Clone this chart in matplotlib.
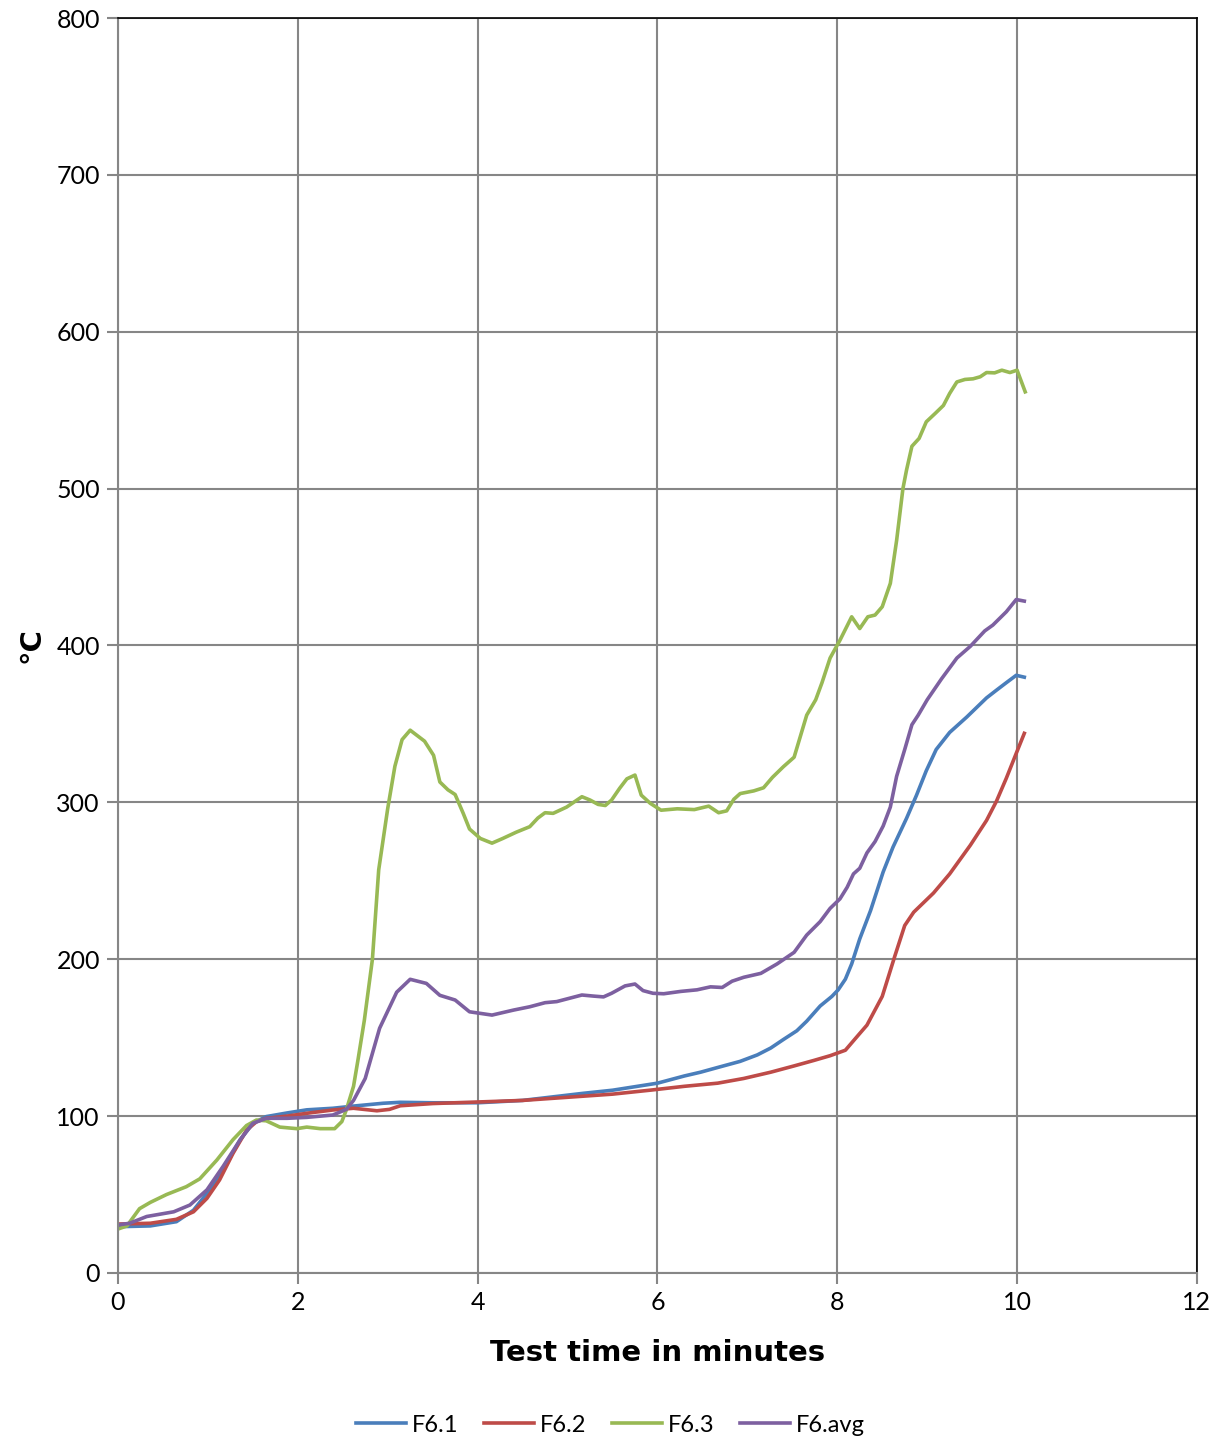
import matplotlib.pyplot as plt

plt.rcParams['font.family'] = ['Lato', 'DejaVu Sans']

# F6.1 (blue)
t_f61 = [0, 0.36, 0.65, 0.84, 1.02, 1.21, 1.36, 1.5, 1.65, 1.88, 2.1, 2.39, 2.62, 2.95, 3.14,
         3.5, 4.0, 4.5, 5.17, 5.5, 6.0, 6.3, 6.48, 6.67, 6.92, 7.11, 7.26, 7.4, 7.55, 7.66,
         7.81, 7.94, 8.01, 8.09, 8.16, 8.25, 8.37, 8.51, 8.62, 8.77, 8.88, 8.99, 9.1, 9.25,
         9.44, 9.66, 9.77, 9.88, 9.99, 10.08]
f61 = [29.5, 30, 32.7, 40, 53, 70, 85, 95.4, 99.7, 102, 104, 105, 106.4, 108.2, 108.8,
       108.5, 108.5, 110, 114.5, 116.5, 121, 125.6, 128, 131, 134.9, 139, 143.4, 148.8, 154.4, 160.5,
       170.2, 176.3, 180.5, 187.3, 197, 213, 231, 255.6, 271.5, 289.8, 304.4, 320.2, 333.7, 344.6,
       354.4, 366.6, 371.5, 376.3, 381, 379.8]

# F6.2 (red)
t_f62 = [0, 0.36, 0.65, 0.84, 0.99, 1.13, 1.28, 1.43, 1.54, 1.65, 1.88, 2.1, 2.39, 2.62, 2.88,
         3.02, 3.14, 3.5, 4.0, 4.5, 5.0, 5.5, 5.93, 6.3, 6.67, 6.96, 7.26, 7.52, 7.74, 7.92,
         8.09, 8.22, 8.33, 8.5, 8.64, 8.75, 8.85, 9.07, 9.25, 9.48, 9.66, 9.77, 9.88, 9.99, 10.08]
f62 = [31.2, 31.7, 34.2, 39, 47.6, 59.3, 76.3, 91, 96.4, 98.6, 100, 101.8, 103.9, 105, 103.4,
       104.3, 106.6, 108, 109, 110, 112, 114, 116.6, 119, 121, 124, 128, 132, 135.5, 138.5,
       142, 150.7, 158, 176.3, 202, 221.5, 230, 242.2, 254.4, 272.7, 288.5, 300.7, 315.4, 331.2, 344]

# F6.3 (green)
t_f63 = [0, 0.1, 0.24, 0.36, 0.54, 0.76, 0.91, 1.1, 1.28, 1.43, 1.54, 1.65, 1.8, 1.99, 2.1,
         2.25, 2.41, 2.49, 2.54, 2.62, 2.67, 2.74, 2.83, 2.9, 3.0, 3.08, 3.16, 3.25, 3.41, 3.51,
         3.58, 3.67, 3.75, 3.84, 3.91, 4.03, 4.16, 4.28, 4.43, 4.58, 4.67, 4.75, 4.84, 4.99, 5.16,
         5.25, 5.34, 5.42, 5.49, 5.58, 5.66, 5.75, 5.82, 5.92, 6.04, 6.22, 6.41, 6.57, 6.68, 6.77,
         6.85, 6.92, 7.07, 7.18, 7.28, 7.4, 7.52, 7.66, 7.76, 7.83, 7.92, 8.03, 8.16, 8.25, 8.34,
         8.42, 8.5, 8.59, 8.66, 8.73, 8.77, 8.83, 8.91, 8.99, 9.09, 9.18, 9.25, 9.33, 9.42, 9.51,
         9.59, 9.66, 9.75, 9.83, 9.92, 10.0, 10.09]
f63 = [28, 30, 41, 45, 50, 55, 60, 72, 85, 94, 97.5, 97, 93, 92, 93,
       92, 92, 96.5, 104, 119, 136, 161, 200, 257, 296, 323, 340, 346, 339, 330,
       313, 308, 305, 293, 283, 277, 274, 277, 281, 284.5, 290, 293.4, 293, 297, 303.6,
       301.5, 298.7, 298, 301.5, 309, 315, 317.4, 304.6, 299.4, 295, 295.9, 295.4, 297.6, 293.4, 294.6,
       302, 305.6, 307.3, 309.3, 316, 322.7, 328.8, 355.6, 365.4, 376.3, 392, 403.4, 418.3, 410.8, 418.3,
       419.4, 424.7, 439.6, 467, 500, 511.8, 527, 532, 542.6, 548, 553, 560.7, 568, 569.6, 570,
       571.3, 574, 573.8, 575.5, 574, 575.5, 561.7]

# F6.avg (purple)
t_avg = [0, 0.13, 0.32, 0.62, 0.8, 0.99, 1.17, 1.36, 1.5, 1.65, 1.88, 2.1, 2.39, 2.54, 2.62,
         2.75, 2.91, 3.1, 3.25, 3.43, 3.58, 3.75, 3.91, 4.16, 4.4, 4.58, 4.75, 4.88, 5.16, 5.29,
         5.4, 5.49, 5.64, 5.75, 5.84, 5.95, 6.07, 6.26, 6.44, 6.59, 6.72, 6.83, 6.96, 7.15, 7.33,
         7.52, 7.66, 7.81, 7.92, 8.03, 8.11, 8.18, 8.25, 8.33, 8.42, 8.51, 8.59, 8.66, 8.75, 8.83,
         8.9, 9.0, 9.16, 9.33, 9.48, 9.64, 9.73, 9.88, 9.99, 10.08]
f6avg = [30.6, 31.7, 36, 39, 43.3, 53, 68, 85, 95.4, 98.6, 98.6, 99.2, 100.7, 104.3, 110,
         124, 156, 179, 187.2, 184.6, 177, 174, 166.5, 164.4, 167.6, 169.7, 172.3, 173, 177.2, 176.5,
         176, 178.3, 183, 184.2, 180, 178.3, 178, 179.5, 180.5, 182.4, 182, 186, 188.5, 191, 197,
         204.4, 215.4, 224, 232.4, 238.5, 245.9, 254.4, 258, 267.8, 275, 284.9, 297, 316.6, 333.7, 349.5,
         355.6, 365.4, 378.8, 392, 399.5, 409.3, 413, 421.5, 429.3, 428.3]

series = [
    ('F6.1', t_f61, f61, '#4A7EBB'),
    ('F6.2', t_f62, f62, '#BE4B48'),
    ('F6.3', t_f63, f63, '#98B954'),
    ('F6.avg', t_avg, f6avg, '#7D60A0'),
]

fig = plt.figure(figsize=(12.21, 14.41), dpi=100)
ax = fig.add_axes([0.0966, 0.1166, 0.8837, 0.8709])

for name, t, y, c in series:
    ax.plot(t, y, color=c, lw=2.6, label=name, solid_joinstyle='round')

ax.set_xlim(0, 12)
ax.set_ylim(0, 800)
ax.set_xticks(range(0, 13, 2))
ax.set_yticks(range(0, 801, 100))
ax.grid(True, color='#868686', lw=1.5)
ax.set_axisbelow(True)
for s in ax.spines.values():
    s.set_color('#000000')
    s.set_linewidth(1.2)
ax.spines['left'].set_color('#868686')
ax.spines['left'].set_linewidth(1.5)
ax.spines['bottom'].set_color('#868686')
ax.spines['bottom'].set_linewidth(1.5)
ax.tick_params(direction='out', length=8, width=1.5, color='#868686', labelsize=18, pad=5)

bold = dict(family=['DejaVu Sans'], fontsize=21, fontweight='bold')
ax.set_xlabel('Test time in minutes', labelpad=18, **bold)
ax.set_ylabel('°C', labelpad=8, **bold)

fig.legend(loc='center', bbox_to_anchor=(0.5, 0.011), ncol=4, frameon=False,
           fontsize=17, handlelength=2.1, columnspacing=1.1, handletextpad=0.25)

fig.savefig('out.png', dpi=100)
